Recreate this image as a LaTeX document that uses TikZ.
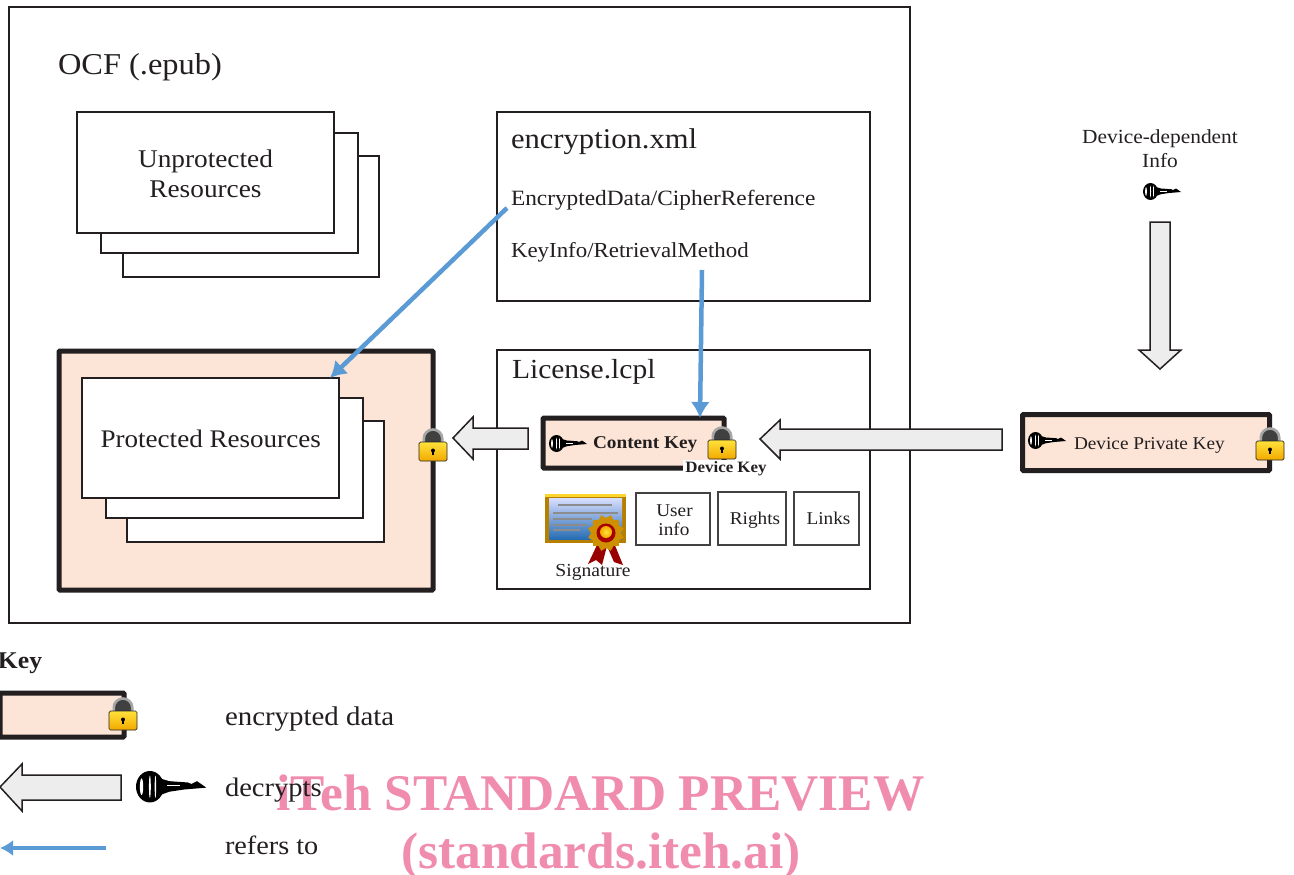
\documentclass[tikz,border=0pt]{standalone}
\usepackage{fontspec}
\setmainfont[FakeStretch=1.07]{Liberation Serif}
\newfontfamily\wmfont{Liberation Serif}
\usetikzlibrary{calc,arrows.meta}
\definecolor{ink}{HTML}{231F20}
\definecolor{peach}{HTML}{FCE4D6}
\definecolor{bluearr}{HTML}{5B9BD5}
\definecolor{blockfill}{HTML}{EDEDED}
\definecolor{wm}{HTML}{F08CAE}
\definecolor{golda}{HTML}{FFE23A}
\definecolor{goldb}{HTML}{F2A900}
\tikzset{
  x=1pt,y=-1pt,
  every node/.style={text=ink,inner sep=0pt,outer sep=0pt},
  thinbox/.style={draw=ink,line width=1.25pt,fill=white},
  smallbox/.style={draw=ink!85,line width=1.2pt,fill=white},
  smalltxt/.style={anchor=base,font=\fontsize{18}{21}\selectfont},
  encbox/.style={draw=ink,line width=5pt,fill=peach,rounded corners=1pt},
  reftip/.style={draw=bluearr,line width=4.5pt,-{Latex[length=16pt,width=19pt]}},
  reftipsmall/.style={draw=bluearr,line width=4.5pt,-{Latex[length=13pt,width=16pt]}},
  blockarrow/.style={draw=ink,line width=1.5pt,fill=blockfill,line join=miter},
  lbl/.style={anchor=base west},
  lockicon/.pic={
    \draw[line width=2.6pt,draw=black!35,fill=black!75] (4.8,16) -- (4.8,10.5) arc[start angle=180,end angle=360,x radius=9.2,y radius=9] -- (23.2,16);
    \shade[top color=golda,bottom color=goldb,draw=black!85,line width=.7pt,rounded corners=1.5pt] (0,14) rectangle (28,33);
    \fill[black] (14,22.5) circle[radius=2];
    \fill[black] (13.2,23) rectangle (14.8,27);
  },
  keyicon/.pic={
    \fill[black] (7.5,8.5) ellipse[x radius=7.5,y radius=8.5];
    \fill[white] (3,8.5) ellipse[x radius=.9,y radius=4.5];
    \fill[white] (7.5,8.5) ellipse[x radius=.5,y radius=6];
    \fill[white] (10.5,8.5) ellipse[x radius=.4,y radius=6];
    \fill[black] (13,4) -- (18,5.5) -- (28,6.2) -- (30,7) -- (33,5.5) -- (38,9) -- (26,10) -- (18,11.2) -- (13,13) -- cycle;
    \draw[white,line width=.4pt] (17,7.8) -- (24,7.8);
  },
}
\begin{document}
\begin{tikzpicture}
\useasboundingbox (0,0) rectangle (1294,875);
\fill[white] (0,0) rectangle (1294,875);

% OCF container
\node[thinbox,minimum width=901pt,minimum height=616pt,anchor=north west] (ocf) at (9,7) {};
\node[lbl,font=\fontsize{30.3}{36}\selectfont] (ocftitle) at (58,75) {OCF (.epub)};

% Unprotected stack
\node[thinbox,anchor=north west,minimum width=256pt,minimum height=121pt] (uback) at (123,156) {};
\node[thinbox,anchor=north west,minimum width=257pt,minimum height=120pt] (umid) at (101,133) {};
\node[thinbox,anchor=north west,minimum width=257pt,minimum height=121pt] (ufront) at (77,112) {};
\node[anchor=base,font=\fontsize{25.5}{30}\selectfont] (utxta) at (205.5,167) {Unprotected};
\node[anchor=base,font=\fontsize{25.5}{30}\selectfont] (utxtb) at (205.5,197) {Resources};

% encryption.xml
\node[thinbox,anchor=north west,minimum width=373pt,minimum height=189pt] (enc) at (497,112) {};
\node[lbl,font=\fontsize{28.6}{32}\selectfont] (enctitle) at (511,148) {encryption.xml};
\node[lbl,font=\fontsize{21.8}{26}\selectfont] (cipher) at (511,205) {EncryptedData/CipherReference};
\node[lbl,font=\fontsize{21.4}{26}\selectfont] (retrieval) at (511,257) {KeyInfo/RetrievalMethod};

% Protected resources
\node[encbox,anchor=north west,minimum width=374pt,minimum height=239pt] (prot) at (59,351) {};
\node[thinbox,anchor=north west,minimum width=257pt,minimum height=121pt] (pback) at (127,421) {};
\node[thinbox,anchor=north west,minimum width=257pt,minimum height=120pt] (pmid) at (106,398) {};
\node[thinbox,anchor=north west,minimum width=257pt,minimum height=120pt] (pfront) at (82,378) {};
\node[anchor=base,font=\fontsize{25.3}{30}\selectfont] (ptxt) at (210.7,447) {Protected Resources};

% License
\node[thinbox,anchor=north west,minimum width=373pt,minimum height=239pt] (lic) at (497,350) {};
\node[lbl,font=\fontsize{27.6}{32}\selectfont] (lictitle) at (512,378) {License.lcpl};

% Content key
\node[encbox,anchor=north west,minimum width=181pt,minimum height=50pt] (ckey) at (543,418) {};
\node[lbl,font=\bfseries\fontsize{18}{21}\selectfont] (cktext) at (593,448) {Content Key};
\pic at (549,435) {keyicon};
\pic at (708,426) {lockicon};
\fill[white] (683,460) rectangle (767,476);
\node[anchor=base,font=\bfseries\fontsize{15.8}{18}\selectfont] (dkey) at (726,472) {Device Key};

% Signature icon
\fill[goldb!75!black] (545,494) rectangle (626,543);
\fill[golda!80!goldb] (545,494) rectangle (626,497);
\shade[top color=cyan!15!blue!15,bottom color=cyan!50!blue!65!black!85] (549,498) rectangle (622,539);
\foreach \y/\a/\b in {505/558/612,513/553/618,519/553/592,525/553/587,530/553/580}{\draw[black!45,line width=1.1pt] (\a,\y) -- (\b,\y);}
\fill[red!60!black] (597,545) -- (588,564) -- (596,560) -- (602,565) -- (607,546) -- cycle;
\fill[red!60!black] (607,546) -- (614,562) -- (623,565) -- (614,543) -- cycle;
\foreach \r in {0,30,60}{\fill[goldb!85!black,rotate around={\r:(606,533)}] (593,520) rectangle (619,546);}
\fill[red!65!black] (606,533) circle[radius=9.5];
\shade[inner color=golda,outer color=goldb] (606,532) circle[radius=6];
\node[font=\fontsize{18.3}{21}\selectfont,anchor=base] (sig) at (593,576) {Signature};

\node[smallbox,anchor=north west,minimum width=74pt,minimum height=52pt] (user) at (636,493) {};
\node[smalltxt] (usera) at (674.5,516.5) {User};
\node[smalltxt] (userb) at (674,535) {info};
\node[smallbox,anchor=north west,minimum width=68pt,minimum height=53pt] (rights) at (718,492) {};
\node[smalltxt] (rtxt) at (755,524) {Rights};
\node[smallbox,anchor=north west,minimum width=65pt,minimum height=53pt] (links) at (794,492) {};
\node[smalltxt] (ltxt) at (828.5,524) {Links};

% Device info
\node[align=center,font=\fontsize{20}{24}\selectfont,anchor=north] (devinfo) at (1160,130) {Device-dependent\\Info};
\pic at (1143,183) {keyicon};
\path[blockarrow] (1150,222) -- (1170,222) -- (1170,350) -- (1181,350) -- (1160,369) -- (1139,350) -- (1150,350) -- cycle;

% Device private key
\node[encbox,anchor=north west,minimum width=247pt,minimum height=56pt] (dpk) at (1022.5,414.5) {};
\pic at (1028,432) {keyicon};
\node[lbl,font=\fontsize{18}{22}\selectfont] (dpktext) at (1074,449.5) {Device Private Key};
\pic at (1256,427) {lockicon};

% Decrypt block arrows
\path[blockarrow] (1002,429) -- (780,429) -- (780,420) -- (760,439) -- (780,459) -- (780,450) -- (1002,450) -- cycle;
\path[blockarrow] (528,428) -- (473,428) -- (473,417) -- (453,438) -- (473,459) -- (473,449) -- (528,449) -- cycle;
\pic at (419,428) {lockicon};

% Reference arrows
\coordinate (ciphstart) at (507,208);
\coordinate (retrstart) at (702,270);
\draw[reftip] (ciphstart) -- ($(pfront.north east)+(-9,0)$);
\draw[reftip] (retrstart) -- (ckey.north -| 700,0);

% Legend
\node[lbl,font=\bfseries\fontsize{24}{28}\selectfont] (keytitle) at (-2,668) {Key};
\node[encbox,anchor=north west,minimum width=124pt,minimum height=44pt] (lenc) at (0,693) {};
\pic at (109,697) {lockicon};
\node[lbl,font=\fontsize{27}{28}\selectfont] (ltext1) at (225,725) {encrypted data};
\path[blockarrow] (121,775) -- (22,775) -- (22,764) -- (0,787) -- (22,811) -- (22,800) -- (121,800) -- cycle;
\pic[scale=1.85] at (136,771) {keyicon};
\coordinate (lref) at (106,848);
\coordinate (lrefend) at (0,848);
\draw[reftipsmall] (lref) -- (lrefend);
\node[lbl,font=\fontsize{26.4}{28}\selectfont] (ltext3) at (225,854) {refers to};

% Watermark
\node[anchor=base,font=\wmfont\bfseries\fontsize{51.4}{60}\selectfont,text=wm] (wm1) at (600.5,810) {iTeh STANDARD PREVIEW};
\node[anchor=base,font=\wmfont\bfseries\fontsize{51.4}{60}\selectfont,text=wm] (wm2) at (601,868) {(standards.iteh.ai)};
\node[lbl,font=\fontsize{26.7}{28}\selectfont] (ltext2) at (225,796) {decrypts};
\end{tikzpicture}
\end{document}
